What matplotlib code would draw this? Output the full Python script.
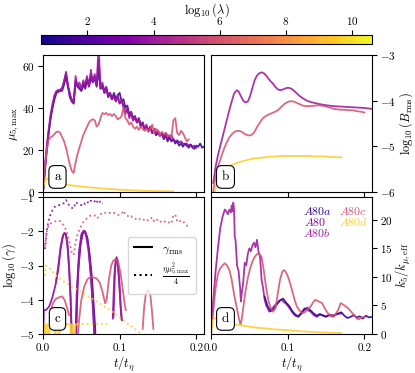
import numpy as np
import matplotlib
matplotlib.use('AGG')
import matplotlib.pyplot as plt
from matplotlib import cm, colors

plt.rcParams['mathtext.fontset'] = 'cm'
plt.rcParams['font.family'] = 'serif'
plt.rcParams['font.serif'] = ['cmr10', 'DejaVu Serif']
plt.rcParams['axes.formatter.use_mathtext'] = True
plt.rcParams['font.size'] = 8
plt.rcParams['axes.labelsize'] = 9
plt.rcParams['ytick.major.pad'] = 2.5

# runs and their log10(lambda)
runs = ['A80a', 'A80', 'A80b', 'A80c', 'A80d']
loglam = [1.2, 3.3, 4.0, 6.0, 9.6]
eta = 1e-4

# ---- panel a: mu_5,max (sampled every dt)
dt = 0.0025
mu_A80a = [0, 10, 20, 28, 35, 40, 44, 47, 47.5, 48, 48, 51, 55, 50, 45, 43, 42, 52, 50, 49,
           48, 51, 49, 53, 50, 54, 52, 54, 50, 58, 49, 50, 47, 49, 45, 47, 44, 47, 44, 46,
           47, 43, 44, 40, 41, 37, 38, 35, 36, 33, 35, 32, 33, 30, 31, 29, 31, 28, 29, 27,
           29, 27, 28, 25, 27, 24, 26, 24, 25, 23, 24, 22, 23, 21.5, 23, 22, 21, 22.5, 21, 20.5,
           22, 21.5, 23, 21, 21.5]
mu_A80 = [0, 11, 21, 29, 36, 41, 45, 47.5, 48, 48.5, 49.5, 52, 57, 51, 46, 44, 43, 53, 51, 50,
          48, 52, 50, 54, 51, 56, 53, 55, 51, 63, 50, 51, 48, 50, 46, 46, 44, 46, 43, 45,
          42, 43, 41, 38, 39, 36, 37, 34, 35, 33, 34, 31, 32, 30, 31, 29, 30, 28, 29.5, 27,
          28, 26.5, 27.5, 26, 27, 25, 26, 24.5, 25, 24, 24.5, 23.5, 24, 23, 22.5, 23, 22, 22.5,
          21.5, 22, 21]
mu_A80b = [0, 12, 22, 30, 37, 42, 46, 48, 48.5, 48, 49, 53, 56, 50, 47, 43, 42, 55, 50, 52,
           49, 53, 51, 55, 50, 58, 52, 56, 50, 70, 49, 52, 47, 49, 46, 47, 44, 45, 43, 46,
           42, 44, 40, 37, 40, 35, 38, 34, 36, 33, 35, 31, 33, 30, 32, 29, 31, 28, 30, 28,
           29, 27, 28, 26, 28, 27, 26, 27, 25]
mu_A80c = [0, 12, 20, 25, 26, 26.5, 27.5, 28.5, 28.7, 28, 26, 24, 21, 17, 13, 10, 9, 14, 18, 21,
           24, 27, 29, 31, 33, 34, 34.5, 34, 31, 32, 35, 37.5, 37, 37.5, 36.5, 37, 36, 37, 36, 34.5,
           35, 36, 40, 35, 34, 32, 33, 31, 30, 31, 29.5, 31, 30, 29, 30, 28.5, 30, 32, 28, 30,
           29, 27, 28.5, 27.5, 28, 26.5, 27, 26, 34, 35, 28, 27, 29, 28, 26, 24, 25]
t_mu_A80d = [0, 0.002, 0.004, 0.006, 0.01, 0.02, 0.03, 0.04, 0.05, 0.06, 0.07, 0.08, 0.09,
             0.10, 0.11, 0.12, 0.13, 0.14, 0.15, 0.16, 0.17]
mu_A80d = [2, 4.5, 6.3, 6.2, 5.5, 4.2, 3.5, 3.0, 2.6, 2.2, 1.9, 1.6, 1.35, 1.1, 0.9, 0.75,
           0.6, 0.5, 0.42, 0.35, 0.3]

# ---- panel b: log10(B_rms)
t_B_A80 = [0.003, 0.006, 0.009, 0.012, 0.015, 0.018, 0.021, 0.024, 0.027, 0.030, 0.0335, 0.036,
           0.039, 0.042, 0.045, 0.048, 0.051, 0.054, 0.057, 0.060, 0.063, 0.066, 0.069, 0.072,
           0.075, 0.078, 0.081, 0.084, 0.087, 0.090, 0.093, 0.096, 0.099, 0.102, 0.106, 0.110,
           0.115, 0.120, 0.125, 0.130, 0.140, 0.150, 0.160, 0.170, 0.180, 0.190, 0.200, 0.210]
B_A80 = [-5.8, -5.45, -5.2, -5.0, -4.8, -4.6, -4.4, -4.2, -4.02, -3.85, -3.77, -3.8,
         -3.9, -4.0, -4.04, -4.02, -3.9, -3.72, -3.55, -3.45, -3.4, -3.38, -3.4, -3.45,
         -3.52, -3.58, -3.63, -3.7, -3.75, -3.77, -3.76, -3.74, -3.72, -3.72, -3.75, -3.81,
         -3.89, -3.95, -4.0, -4.03, -4.07, -4.1, -4.12, -4.13, -4.14, -4.15, -4.16, -4.18]
t_B_A80c = [0.002, 0.005, 0.008, 0.012, 0.016, 0.020, 0.024, 0.028, 0.032, 0.036, 0.040, 0.044,
            0.048, 0.052, 0.056, 0.060, 0.064, 0.068, 0.072, 0.076, 0.080, 0.084, 0.088, 0.092,
            0.096, 0.100, 0.104, 0.108, 0.112, 0.116, 0.120, 0.125, 0.130, 0.135, 0.140, 0.145,
            0.150, 0.155, 0.160, 0.165, 0.170, 0.175, 0.180, 0.185, 0.190, 0.195, 0.200]
B_A80c = [-6.1, -5.75, -5.5, -5.3, -5.1, -4.93, -4.8, -4.72, -4.67, -4.66, -4.68, -4.73,
          -4.76, -4.76, -4.7, -4.58, -4.47, -4.38, -4.33, -4.3, -4.27, -4.24, -4.2, -4.13,
          -4.07, -4.03, -4.01, -4.02, -4.05, -4.08, -4.11, -4.12, -4.12, -4.11, -4.1, -4.11,
          -4.13, -4.15, -4.18, -4.19, -4.2, -4.2, -4.21, -4.21, -4.23, -4.24, -4.26]
t_B_A80d = [0.004, 0.007, 0.010, 0.014, 0.018, 0.022, 0.027, 0.033, 0.040, 0.047, 0.055, 0.065,
            0.075, 0.085, 0.095, 0.105, 0.115, 0.125, 0.135, 0.145, 0.155, 0.165, 0.170]
B_A80d = [-6.1, -5.8, -5.68, -5.58, -5.5, -5.45, -5.41, -5.37, -5.33, -5.3, -5.27, -5.25,
          -5.23, -5.22, -5.21, -5.21, -5.21, -5.21, -5.22, -5.22, -5.23, -5.24, -5.24]

# ---- panel c: log10(gamma_rms), nan = gamma <= 0
t_g_A80a = [0.042, 0.044, 0.046, 0.049, 0.052, 0.055, 0.058, 0.061, 0.064, 0.066, 0.068, 0.069]
g_A80a = [-5.5, -4.2, -3.1, -2.4, -2.05, -2.0, -2.2, -2.7, -3.4, -4.1, -4.8, -5.5]
t_g_A80 = [0.0, 0.001, 0.004, 0.008, 0.012, 0.016, 0.020, 0.023, 0.026, 0.028, 0.030, 0.032,
           0.034, 0.036, 0.038, np.nan, 0.042, 0.044, 0.047, 0.050, 0.053, 0.056, 0.059,
           0.062, 0.065, 0.068, np.nan, 0.091, 0.093, 0.095, 0.097, 0.099, 0.101, 0.103]
g_A80 = [-5.5, -4.3, -4.3, -4.2, -3.95, -3.6, -3.1, -2.5, -2.15, -2.05, -2.1, -2.4,
         -3.0, -3.9, -5.5, np.nan, -5.5, -3.8, -2.6, -2.1, -1.98, -2.1, -2.5,
         -3.2, -4.2, -5.5, np.nan, -4.55, -3.3, -2.8, -2.85, -3.4, -4.1, -4.6]
t_g_A80b = [0.017, 0.020, 0.023, 0.026, 0.028, 0.030, 0.032, 0.034, 0.036, 0.038, np.nan,
            0.043, 0.045, 0.048, 0.051, 0.054, 0.057, 0.060, 0.063, 0.066, 0.068, np.nan,
            0.092, 0.094, 0.096, 0.098, 0.100, 0.102]
g_A80b = [-3.5, -3.0, -2.45, -2.12, -2.05, -2.1, -2.45, -3.1, -4.0, -5.5, np.nan,
          -5.5, -3.6, -2.5, -2.05, -2.0, -2.15, -2.6, -3.4, -4.5, -5.5, np.nan,
          -4.5, -3.1, -2.75, -2.9, -3.6, -4.55]
t_g_A80c = [0.010, 0.013, 0.017, 0.021, 0.025, 0.028, 0.031, 0.034, np.nan,
            0.044, 0.047, 0.050, 0.054, 0.058, 0.062, 0.066, 0.070, 0.074, 0.078, 0.081,
            0.083, 0.086, 0.089, 0.092, 0.095, 0.098, 0.101, 0.104, 0.107, 0.108, np.nan,
            0.130, 0.132, 0.134, 0.137, 0.140, 0.142, 0.144]
g_A80c = [-4.35, -4.1, -3.97, -3.93, -3.9, -4.0, -4.2, -4.45, np.nan,
          -5.5, -4.6, -4.0, -3.6, -3.4, -3.33, -3.35, -3.38, -3.5, -3.8, -4.1,
          -4.0, -3.4, -3.0, -2.85, -2.82, -2.9, -3.2, -3.7, -4.2, -4.3, np.nan,
          -4.85, -4.2, -3.85, -3.7, -3.85, -4.3, -4.85]
t_g_A80d = [0.001, 0.002, 0.003, 0.004, 0.005, 0.006, 0.008, 0.009, 0.010, 0.012, 0.015,
            0.016, 0.017, 0.020, 0.021, 0.022, 0.023, 0.030, 0.036, 0.037, 0.038, 0.039,
            0.041, 0.042, 0.043, 0.044]
g_A80d = [-5.5, -4.72, -4.72, -5.5, -4.72, -4.72, -5.5, -4.72, -4.72, -4.72, -4.72,
          -5.5, -4.72, -4.72, -5.5, -4.72, -4.72, -4.72, -4.72, -5.5, -4.72, -4.72,
          -5.5, -4.72, -4.72, -4.72]
t_g_A80d_late = [0.044, 0.083]
g_A80d_late = [-4.72, -4.72]
tmax_dot = {'A80': 0.078, 'A80c': 0.20, 'A80d': 0.17}

# ---- panel d: k5 / k_mu,eff
t_k_A80b = [0.0, 0.003, 0.006, 0.009, 0.012, 0.015, 0.018, 0.020, 0.022, 0.024, 0.026, 0.027,
            0.028, 0.029, 0.030, 0.031, 0.032, 0.034, 0.036, 0.038, 0.039, 0.040, 0.042, 0.044,
            0.046, 0.048, 0.050, 0.052, 0.054, 0.056, 0.058, 0.060, 0.062, 0.064, 0.066, 0.068,
            0.070, 0.072, 0.074, 0.076, 0.078, 0.080, 0.083, 0.086, 0.089, 0.092, 0.095, 0.098,
            0.101, 0.104, 0.107, 0.110, 0.114, 0.118, 0.122, 0.126, 0.130, 0.134, 0.138, 0.142,
            0.146, 0.150, 0.155, 0.160, 0.165, 0.170]
k_A80b = [0.5, 6, 11, 15, 18.5, 20.5, 21.8, 21.5, 21, 21.8, 21.3, 22.5,
          21.5, 23, 22, 17, 16.5, 12, 11, 8, 5.7, 7, 9, 12.5,
          12, 14, 15, 14.5, 15.5, 16, 15.2, 16.5, 14.4, 13.5, 9.5, 8,
          6, 5, 4.5, 3.9, 4.2, 4.5, 5.0, 5.4, 5.8, 6.0, 5.6, 5.3,
          4.8, 4.2, 3.6, 3.2, 3.0, 3.8, 4.5, 4.2, 3.9, 3.3, 3.0, 3.4,
          3.3, 3.1, 3.4, 3.2, 3.5, 3.6]
t_k_A80a = [0.070, 0.074, 0.078, 0.082, 0.086, 0.090, 0.094, 0.098, 0.102, 0.106, 0.110, 0.114,
            0.118, 0.122, 0.126, 0.130, 0.134, 0.138, 0.142, 0.146, 0.150, 0.154, 0.158, 0.162,
            0.166, 0.170, 0.174, 0.178, 0.182, 0.186, 0.190, 0.194, 0.198, 0.202, 0.206, 0.210]
k_A80a = [6.5, 4.8, 4.0, 4.4, 5.2, 5.9, 6.2, 5.5, 4.9, 4.0, 3.4, 3.1,
          3.6, 4.3, 4.6, 4.1, 3.6, 3.2, 3.5, 3.2, 3.0, 3.3, 3.1, 3.4,
          3.6, 3.8, 3.2, 2.8, 3.0, 3.3, 2.9, 3.1, 2.7, 3.2, 2.9, 3.0]
t_k_A80c = [0.0, 0.003, 0.006, 0.009, 0.012, 0.015, 0.018, 0.021, 0.024, 0.027, 0.030, 0.033,
            0.036, 0.0385, 0.040, 0.042, 0.045, 0.048, 0.051, 0.054, 0.057, 0.060, 0.063, 0.066,
            0.069, 0.072, 0.075, 0.078, 0.081, 0.084, 0.087, 0.090, 0.093, 0.095, 0.097, 0.100,
            0.103, 0.106, 0.109, 0.112, 0.115, 0.118, 0.121, 0.124, 0.127, 0.130, 0.133, 0.136,
            0.139, 0.142, 0.145, 0.148, 0.151, 0.154, 0.157, 0.160, 0.163, 0.166, 0.169, 0.172,
            0.175, 0.178, 0.181, 0.184, 0.187, 0.190, 0.193, 0.196, 0.200]
k_A80c = [0.5, 4, 8, 10.5, 11.5, 12, 12.4, 12, 11.2, 9.5, 7, 5,
          3, 1.6, 2.5, 4.5, 7.5, 9.8, 11.5, 12.7, 13.5, 14, 14, 13.5,
          11, 8, 5.8, 4.5, 3.9, 4.5, 7, 9.5, 10.9, 11.2, 11, 10.2,
          9, 7.5, 6, 4.8, 4.2, 3.8, 3.7, 4.0, 4.5, 4.8, 5.5, 6.0,
          5.8, 5.6, 5.4, 4.6, 3.9, 3.4, 3.1, 3.0, 3.6, 4.2, 5.4, 5.2,
          4.9, 4.6, 4.2, 3.7, 3.3, 2.7, 2.6, 2.9, 3.0]
t_k_A80d = [0.0, 0.002, 0.004, 0.006, 0.01, 0.02, 0.03, 0.04, 0.05, 0.06, 0.07, 0.08, 0.09,
            0.10, 0.11, 0.12, 0.13, 0.14, 0.15, 0.16, 0.17]
k_A80d = [0, 2.2, 2.8, 2.7, 2.5, 2.0, 1.7, 1.5, 1.3, 1.1, 1.0, 0.85, 0.75,
          0.65, 0.55, 0.45, 0.38, 0.3, 0.25, 0.2, 0.18]

cmap = plt.get_cmap('plasma')
norm = colors.Normalize(vmin=0.6, vmax=10.6)
col = {r: cmap(norm(l)) for r, l in zip(runs, loglam)}
lw = 1.3
al = 0.88

W, H = 415, 373
fig = plt.figure(figsize=(W / 100, H / 100), dpi=100)

def box(l, t, r, b):
    return [l / W, 1 - b / H, (r - l) / W, (b - t) / H]

cax = fig.add_axes(box(41, 35, 372, 44))
axa = fig.add_axes(box(43, 55, 204, 192))
axb = fig.add_axes(box(211, 55, 372, 192))
axc = fig.add_axes(box(43, 197, 204, 334))
axd = fig.add_axes(box(211, 197, 372, 334))

sm = cm.ScalarMappable(norm=norm, cmap=cmap)
cb = fig.colorbar(sm, cax=cax, orientation='horizontal')
cb.set_ticks([2, 4, 6, 8, 10])
cax.xaxis.set_ticks_position('top')
cax.xaxis.set_label_position('top')
cax.tick_params(pad=2)
cb.set_label(r'$\log_{10}(\lambda)$', labelpad=1.5)

# a
mus = {'A80a': mu_A80a, 'A80': mu_A80, 'A80b': mu_A80b, 'A80c': mu_A80c}
for r in ['A80a', 'A80', 'A80b', 'A80c']:
    t = dt * np.arange(len(mus[r]))
    axa.plot(t, mus[r], color=col[r], lw=lw, alpha=al)
axa.plot(t_mu_A80d, mu_A80d, color=col['A80d'], lw=lw, alpha=al)
axa.set_ylim(0, 65)
axa.set_yticks([0, 20, 40, 60])
axa.set_ylabel(r'$\mu_{5,\rm max}$', labelpad=1)

# b
axb.plot(t_B_A80, B_A80, color=col['A80b'], lw=lw, alpha=al)
axb.plot(t_B_A80c, B_A80c, color=col['A80c'], lw=lw, alpha=al)
axb.plot(t_B_A80d, B_A80d, color=col['A80d'], lw=lw, alpha=al)
axb.set_ylim(-6, -3)
axb.set_yticks([-6, -5, -4, -3])
axb.yaxis.tick_right()
axb.yaxis.set_label_position('right')
axb.set_ylabel(r'$\log_{10}(B_{\rm rms})$', labelpad=1)

# c
axc.plot(t_g_A80a, g_A80a, color=col['A80a'], lw=lw, alpha=al)
axc.plot(t_g_A80, g_A80, color=col['A80'], lw=lw, alpha=al)
axc.plot(t_g_A80b, g_A80b, color=col['A80b'], lw=lw, alpha=al)
axc.plot(t_g_A80c, g_A80c, color=col['A80c'], lw=lw, alpha=al)
axc.plot(t_g_A80d, g_A80d, color=col['A80d'], lw=lw, alpha=al)
axc.plot(t_g_A80d_late, g_A80d_late, color=col['A80d'], lw=lw, ls=':', alpha=al)
for r, src in [('A80', (dt * np.arange(len(mu_A80)), mu_A80)),
               ('A80c', (dt * np.arange(len(mu_A80c)), mu_A80c)),
               ('A80d', (np.array(t_mu_A80d), mu_A80d))]:
    t, m = np.asarray(src[0]), np.asarray(src[1], float)
    sel = (m > 0) & (t > 0) & (t <= tmax_dot[r])
    axc.plot(t[sel], np.log10(eta * m[sel] ** 2 / 4), color=col[r], lw=lw, ls=':', alpha=al)
axc.set_ylim(-5, -1)
axc.set_yticks([-5, -4, -3, -2, -1])
axc.set_ylabel(r'$\log_{10}(\gamma)$', labelpad=0.5)
h1, = axc.plot([], [], color='k', lw=1.5)
h2, = axc.plot([], [], color='k', lw=1.5, ls=':')
axc.legend([h1, h2], [r'$\gamma_{\rm rms}$', r'$\frac{\eta\mu_{5,\rm max}^2}{4}$'],
           loc='center right', fontsize=8.5, handlelength=1.6, borderpad=0.5,
           labelspacing=0.5, bbox_to_anchor=(0.985, 0.5))

# d
axd.plot(t_k_A80b, k_A80b, color=col['A80b'], lw=lw, alpha=al)
axd.plot(t_k_A80a, k_A80a, color=col['A80a'], lw=lw, alpha=al)
axd.plot(t_k_A80c, k_A80c, color=col['A80c'], lw=lw, alpha=al)
axd.plot(t_k_A80d, k_A80d, color=col['A80d'], lw=lw, alpha=al)
axd.set_ylim(0, 24)
axd.set_yticks([0, 5, 10, 15, 20])
axd.yaxis.tick_right()
axd.yaxis.set_label_position('right')
axd.set_ylabel(r'$k_5/k_{\mu,\rm eff}$', labelpad=1)
lab_pos = {'A80a': (0.57, 0.895), 'A80': (0.58, 0.815), 'A80b': (0.57, 0.735),
           'A80c': (0.795, 0.895), 'A80d': (0.795, 0.815)}
for r in runs:
    axd.text(*lab_pos[r], r'$%s$' % r, color=col[r], transform=axd.transAxes,
             fontsize=8.5, va='center', ha='left')

for ax, lab in zip([axa, axb, axc, axd], 'abcd'):
    ax.set_xlim(0, 0.21)
    ax.set_xticks([0, 0.1, 0.2])
    ax.text(0.09, 0.11, lab, transform=ax.transAxes, ha='center', va='center', fontsize=9.5,
            bbox=dict(boxstyle='round,pad=0.4', fc='w', ec='k', lw=0.8))
for ax in [axa, axb]:
    ax.set_xticklabels([])
for ax in [axc, axd]:
    ax.set_xticklabels(['0.0', '0.1', '0.2'])
    ax.set_xlabel(r'$t/t_\eta$', labelpad=1)

fig.savefig('out.png', dpi=100)
